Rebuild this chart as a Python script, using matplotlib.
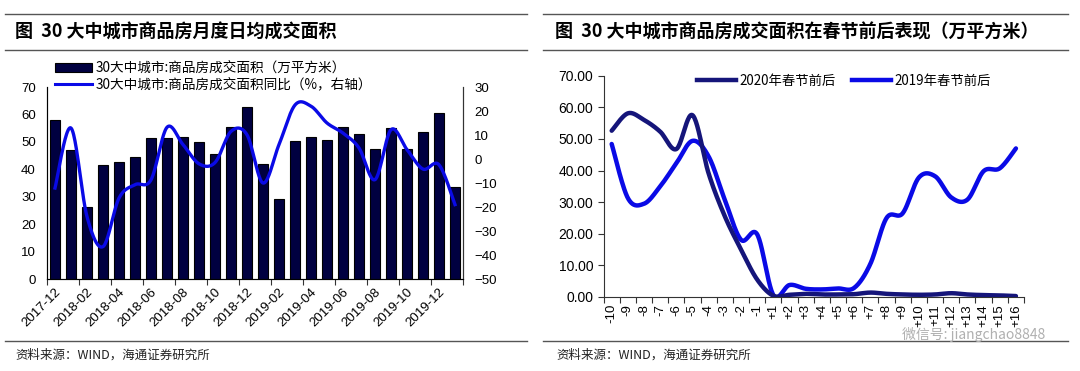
import matplotlib
matplotlib.use("Agg")
import matplotlib.pyplot as plt
import numpy as np
from matplotlib.lines import Line2D
from matplotlib.patches import Patch

plt.rcParams['font.family'] = ['Liberation Sans', 'Noto Sans CJK SC', 'DejaVu Sans']
CJK = ['Noto Sans CJK SC', 'DejaVu Sans']

# ---- left chart data: monthly daily-average area + YoY ----
months = ["2017-12", "2018-01", "2018-02", "2018-03", "2018-04", "2018-05", "2018-06",
          "2018-07", "2018-08", "2018-09", "2018-10", "2018-11", "2018-12", "2019-01",
          "2019-02", "2019-03", "2019-04", "2019-05", "2019-06", "2019-07", "2019-08",
          "2019-09", "2019-10", "2019-11", "2019-12", "2020-01"]
area = [57.8, 46.9, 26.4, 41.7, 42.8, 44.3, 51.3, 51.3, 51.9, 49.8, 45.4, 55.5, 62.7,
        42.1, 29.0, 50.2, 51.8, 50.7, 55.5, 52.9, 47.4, 55.0, 47.4, 53.5, 60.5, 33.5]
yoy = [-12.1, 12.9, -24.0, -36.5, -16.3, -10.7, -8.7, 13.2, 6.0, -2.0, -1.5, 11.5, 10.1,
       -10.0, 6.0, 22.5, 22.0, 15.0, 10.8, 4.6, -8.6, 12.2, 3.9, -4.2, -2.4, -19.0]

# ---- right chart data: days around Spring Festival ----
days = ["-10", "-9", "-8", "-7", "-6", "-5", "-4", "-3", "-2", "-1",
        "+1", "+2", "+3", "+4", "+5", "+6", "+7", "+8", "+9", "+10",
        "+11", "+12", "+13", "+14", "+15", "+16"]
sf2020 = [52.6, 58.1, 56.0, 52.3, 46.8, 57.5, 39.0, 25.5, 15.0, 5.5,
          0.4, 0.7, 1.0, 0.8, 0.8, 0.9, 1.4, 1.0, 0.8, 0.7,
          0.8, 1.2, 0.8, 0.6, 0.5, 0.3]
sf2019 = [48.4, 31.3, 29.5, 35.0, 42.3, 49.4, 44.4, 30.7, 18.1, 19.8,
          0.6, 3.8, 2.6, 2.4, 2.7, 2.9, 10.5, 25.0, 26.5, 37.8,
          38.2, 31.5, 30.8, 39.8, 40.7, 47.0]


def smooth(x, y, n=24):
    # Catmull-Rom curve through the points (Excel-style smoothed line)
    pts = np.column_stack([x, y]).astype(float)
    P = np.vstack([pts[0], pts, pts[-1]])
    t = np.linspace(0, 1, n, endpoint=False)[:, None]
    segs = []
    for i in range(1, len(P) - 2):
        p0, p1, p2, p3 = P[i - 1], P[i], P[i + 1], P[i + 2]
        segs.append(0.5 * (2 * p1 + (-p0 + p2) * t + (2 * p0 - 5 * p1 + 4 * p2 - p3) * t ** 2
                           + (-p0 + 3 * p1 - 3 * p2 + p3) * t ** 3))
    segs.append(pts[-1:])
    s = np.vstack(segs)
    return s[:, 0], s[:, 1]


W, H = 1080, 371
fig = plt.figure(figsize=(W / 100, H / 100), dpi=100)


def px_axes(x0, y_top, x1, y_bot):
    return fig.add_axes([x0 / W, 1 - y_bot / H, (x1 - x0) / W, (y_bot - y_top) / H])


def hline(x0, x1, y):
    fig.add_artist(Line2D([x0 / W, x1 / W], [1 - y / H, 1 - y / H], color="#555555", lw=1.0))


# frame lines, titles, source notes
for x0, x1 in [(5, 527), (543, 1068)]:
    hline(x0, x1, 14)
    hline(x0, x1, 50)
    hline(x0, x1, 341)
fig.text(15 / W, 1 - 32 / H, "图  30 大中城市商品房月度日均成交面积", family=CJK, fontsize=13,
         fontweight="bold", va="center", ha="left")
fig.text(555 / W, 1 - 32 / H, "图  30 大中城市商品房成交面积在春节前后表现（万平方米）", family=CJK,
         fontsize=13, fontweight="bold", va="center", ha="left")
for x in (15, 556):
    fig.text(x / W, 1 - 355 / H, "资料来源：WIND，海通证券研究所", family=CJK, fontsize=9,
             va="center", ha="left", color="#222222")

bar_col = "#000040"
navy = "#15157a"
blue = "#0a0ae6"

# ---------------- left chart ----------------
ax = px_axes(47, 87, 463, 279)
xi = np.arange(len(months))
ax.bar(xi, area, width=0.6, color=bar_col, edgecolor="black", linewidth=0.8, zorder=2)
ax.set_xlim(-0.5, len(months) - 0.5)
ax.set_ylim(0, 70)
ax.set_yticks(np.arange(0, 71, 10))
ax.tick_params(axis="y", length=0, labelsize=9.5, pad=8)
ax.set_xticks(np.arange(-0.5, len(months), 2))
ax.set_xticklabels([])
ax.tick_params(axis="x", which="major", length=4, direction="out", color="#333333")
ax.set_xticks(xi[::2], minor=True)
ax.set_xticklabels(months[::2], minor=True, rotation=45, ha="right", rotation_mode="anchor",
                   fontsize=9.5)
ax.tick_params(axis="x", which="minor", length=0, pad=5)
ax.spines["top"].set_visible(False)
for s in ("left", "right", "bottom"):
    ax.spines[s].set_color("#333333")

ax2 = ax.twinx()
sx, sy = smooth(xi, yoy)
ax2.plot(sx, sy, color=blue, lw=2.4, zorder=3)
ax2.set_ylim(-50, 30)
ax2.set_yticks(np.arange(-50, 31, 10))
ax2.tick_params(axis="y", length=0, labelsize=9.5, pad=8)
ax2.spines["top"].set_visible(False)
ax2.spines["right"].set_color("#333333")

fig.legend(handles=[Patch(facecolor=bar_col, edgecolor="black", linewidth=0.8),
                    Line2D([], [], color=blue, lw=2.2)],
           labels=["30大中城市:商品房成交面积（万平方米）", "30大中城市:商品房成交面积同比（%，右轴）"],
           loc="upper left", bbox_to_anchor=(55 / W, 1 - 61 / H), frameon=False,
           prop={"family": CJK, "size": 9.8}, handlelength=2.7, handleheight=0.6,
           handletextpad=0.3, labelspacing=0.2, borderpad=0, borderaxespad=0)

# ---------------- right chart ----------------
bx = px_axes(603.6, 75.7, 1024, 297)
di = np.arange(len(days))
sx, sy = smooth(di, sf2019)
bx.plot(sx, sy, color=blue, lw=3.2, zorder=2, solid_capstyle="round")
sx, sy = smooth(di, sf2020)
bx.plot(sx, sy, color=navy, lw=3.2, zorder=3, solid_capstyle="round")
bx.set_xlim(-0.5, len(days) - 0.5)
bx.set_ylim(0, 70)
bx.set_yticks(np.arange(0, 71, 10))
bx.set_yticklabels([f"{v:.2f}" for v in np.arange(0, 71, 10)])
bx.tick_params(axis="y", length=4, direction="out", labelsize=10, color="#333333")
bx.set_xticks(np.arange(-0.5, len(days), 1))
bx.set_xticklabels([])
bx.tick_params(axis="x", which="major", length=4, direction="out", color="#333333")
bx.set_xticks(di, minor=True)
bx.set_xticklabels(days, minor=True, rotation=90, fontsize=9.5, va="top", ha="center")
bx.tick_params(axis="x", which="minor", length=0, pad=5)
for s in ("top", "right"):
    bx.spines[s].set_visible(False)
for s in ("left", "bottom"):
    bx.spines[s].set_color("#333333")

fig.legend(handles=[Line2D([], [], color=navy, lw=3.2), Line2D([], [], color=blue, lw=3.2)],
           labels=["2020年春节前后", "2019年春节前后"], ncol=2,
           loc="center left", bbox_to_anchor=(697 / W, 1 - 81 / H), frameon=False,
           prop={"family": CJK, "size": 9.6}, handlelength=2.9, handletextpad=0.3,
           columnspacing=1.2, borderpad=0, borderaxespad=0)

# watermark, kept just under the rotated tick labels
fig.text(1045 / W, 1 - 334 / H, "微信号: jiangchao8848", family=CJK, fontsize=10,
         color="#b0b0b0", va="center", ha="right")

fig.savefig("out.png", dpi=100)
